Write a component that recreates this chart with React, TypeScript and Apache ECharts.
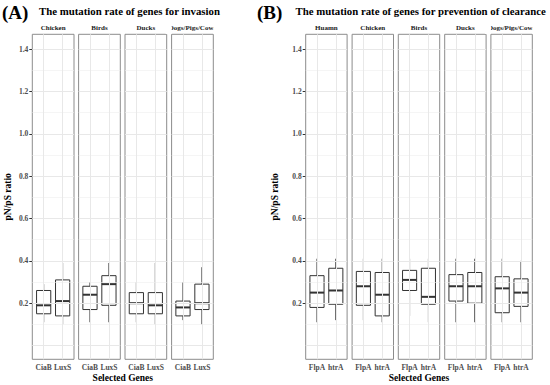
import { useEffect, useRef } from 'react';
import * as echarts from 'echarts';

// ---------- data ----------
const facetsA = ['Chicken', 'Birds', 'Ducks', 'Dogs/Pigs/Cows'];
const genesA = ['CiaB', 'LuxS'];
// [min, q1, median, q3, max] per facet
const ciaB = [
  [0.11, 0.15, 0.19, 0.26, 0.29],
  [0.11, 0.17, 0.24, 0.28, 0.30],
  [0.11, 0.15, 0.20, 0.25, 0.30],
  [0.12, 0.14, 0.18, 0.21, 0.30],
];
const luxS = [
  [0.10, 0.14, 0.21, 0.31, 0.39],
  [0.11, 0.19, 0.29, 0.33, 0.39],
  [0.10, 0.15, 0.19, 0.25, 0.39],
  [0.10, 0.17, 0.20, 0.29, 0.37],
];

const facetsB = ['Huamn', 'Chicken', 'Birds', 'Ducks', 'Dogs/Pigs/Cows'];
const genesB = ['FlpA', 'htrA'];
const flpA = [
  [0.11, 0.18, 0.25, 0.33, 0.41],
  [0.12, 0.19, 0.28, 0.35, 0.41],
  [0.14, 0.26, 0.31, 0.355, 0.41],
  [0.11, 0.21, 0.28, 0.335, 0.41],
  [0.11, 0.155, 0.27, 0.325, 0.41],
];
const htrA = [
  [0.12, 0.195, 0.26, 0.365, 0.41],
  [0.11, 0.14, 0.24, 0.345, 0.41],
  [0.11, 0.195, 0.23, 0.365, 0.41],
  [0.11, 0.20, 0.28, 0.345, 0.41],
  [0.11, 0.185, 0.25, 0.315, 0.40],
];

const yTickLabels = [0.2, 0.4, 0.6, 0.8, 1.0, 1.2, 1.4];
const yMajorGrid = [0.0, 0.2, 0.4, 0.6, 0.8, 1.0, 1.2, 1.4];
const yMinorGrid = [0.1, 0.3, 0.5, 0.7, 0.9, 1.1, 1.3];
const geneSlots = [1, 2];

// ---------- layout ----------
const FONT = '"Liberation Serif", "DejaVu Serif", serif';
const GRID_TOP = 34.3;
const GRID_H = 325;
const leftsA = [32.3, 78.6, 125, 171.6];
const widthA = 41.7;
const leftsB = [305.7, 352.1, 398.3, 444.7, 490.9];
const widthB = 41.4;
const Y_MIN = -0.065;
const Y_MAX = 1.47;

export default function App() {
  const ref = useRef<HTMLDivElement>(null);

  useEffect(() => {
    document.body.style.margin = '0';
    if (!ref.current) return;
    const chart = echarts.init(ref.current, null, { renderer: 'svg' });

    const grids: any[] = [];
    const xAxes: any[] = [];
    const yAxes: any[] = [];
    const series: any[] = [];
    const graphics: any[] = [];

    const renderBox = (_params: any, api: any) => {
      const x = api.value(0);
      const lo = api.coord([x, api.value(1)]);
      const q1 = api.coord([x, api.value(2)]);
      const md = api.coord([x, api.value(3)]);
      const q3 = api.coord([x, api.value(4)]);
      const hi = api.coord([x, api.value(5)]);
      const w = api.size([0.75, 0])[0];
      const cx = lo[0];
      const stroke = '#333333';
      return {
        type: 'group',
        children: [
          { type: 'line', shape: { x1: cx, y1: hi[1], x2: cx, y2: q3[1] }, style: { stroke, lineWidth: 1 } },
          { type: 'line', shape: { x1: cx, y1: q1[1], x2: cx, y2: lo[1] }, style: { stroke, lineWidth: 1 } },
          {
            type: 'rect',
            shape: { x: cx - w / 2, y: q3[1], width: w, height: q1[1] - q3[1] },
            style: { fill: '#ffffff', stroke, lineWidth: 1 },
          },
          { type: 'line', shape: { x1: cx - w / 2, y1: md[1], x2: cx + w / 2, y2: md[1] }, style: { stroke, lineWidth: 2 } },
        ],
      };
    };

    const addPanel = (
      facets: string[],
      genes: string[],
      g1: number[][],
      g2: number[][],
      lefts: number[],
      width: number,
      nameGap: number
    ) => {
      facets.forEach((facet, i) => {
        const idx = grids.length;
        grids.push({
          left: lefts[i],
          top: GRID_TOP,
          width,
          height: GRID_H,
          show: true,
          borderColor: '#8c8c8c',
          borderWidth: 1,
          backgroundColor: '#ffffff',
          containLabel: false,
        });
        xAxes.push({
          type: 'value',
          gridIndex: idx,
          min: 0.4,
          max: 2.6,
          axisLine: { show: false },
          splitLine: { show: false },
          axisTick: { show: true, length: 3, customValues: geneSlots, lineStyle: { color: '#333333' } },
          axisLabel: {
            show: true,
            customValues: geneSlots,
            margin: 4,
            fontFamily: FONT,
            fontWeight: 'bold',
            fontSize: 7.5,
            color: '#4d4d4d',
            formatter: (v: number) => genes[Math.round(v) - 1] ?? '',
          },
        });
        yAxes.push({
          type: 'value',
          gridIndex: idx,
          min: Y_MIN,
          max: Y_MAX,
          axisLine: { show: false },
          splitLine: { show: false },
          axisTick: {
            show: i === 0,
            length: 3,
            customValues: yTickLabels,
            lineStyle: { color: '#333333' },
          },
          axisLabel: {
            show: i === 0,
            customValues: yTickLabels,
            margin: 4,
            fontFamily: FONT,
            fontWeight: 'bold',
            fontSize: 7.5,
            color: '#4d4d4d',
            formatter: (v: number) => v.toFixed(1),
          },
          name: i === 0 ? 'pN/pS ratio' : '',
          nameLocation: 'middle',
          nameRotate: 90,
          nameGap,
          nameTextStyle: { fontFamily: FONT, fontWeight: 'bold', fontSize: 9.5, color: '#000000' },
        });
        // gridlines
        series.push({
          type: 'line',
          xAxisIndex: idx,
          yAxisIndex: idx,
          data: [],
          silent: true,
          z: 1,
          markLine: {
            silent: true,
            symbol: ['none', 'none'],
            label: { show: false },
            animation: false,
            data: [
              ...yMinorGrid.map((v) => ({ yAxis: v, lineStyle: { color: '#efefef', width: 0.6, type: 'solid' } })),
              ...yMajorGrid.map((v) => ({ yAxis: v, lineStyle: { color: '#e8e8e8', width: 1, type: 'solid' } })),
              ...geneSlots.map((v) => ({ xAxis: v, lineStyle: { color: '#e8e8e8', width: 1, type: 'solid' } })),
            ],
          },
        });
        series.push({
          type: 'custom',
          xAxisIndex: idx,
          yAxisIndex: idx,
          z: 3,
          renderItem: renderBox,
          encode: { x: 0, y: [1, 2, 3, 4, 5] },
          data: [
            [1, ...g1[i]],
            [2, ...g2[i]],
          ],
        });
        // strip label
        graphics.push({
          type: 'text',
          x: lefts[i] + width / 2,
          y: 28,
          z: 10,
          style: {
            text: facet,
            fontFamily: FONT,
            fontWeight: 'bold',
            fontSize: 7,
            fill: '#1a1a1a',
            align: 'center',
            verticalAlign: 'middle',
          },
        });
      });
      // mask strip text that overflows the last facet
      const last = lefts.length - 1;
      graphics.push({
        type: 'rect',
        z: 11,
        shape: { x: lefts[last] - 6, y: 21, width: 6, height: 13 },
        style: { fill: '#ffffff' },
      });
      graphics.push({
        type: 'rect',
        z: 11,
        shape: { x: lefts[last] + width, y: 21, width: 8, height: 13 },
        style: { fill: '#ffffff' },
      });
      // x axis title
      graphics.push({
        type: 'text',
        x: (lefts[0] + lefts[last] + width) / 2,
        y: 377.5,
        z: 10,
        style: {
          text: 'Selected Genes',
          fontFamily: FONT,
          fontWeight: 'bold',
          fontSize: 9.5,
          fill: '#000000',
          align: 'center',
          verticalAlign: 'middle',
        },
      });
    };

    addPanel(facetsA, genesA, ciaB, luxS, leftsA, widthA, 19);
    addPanel(facetsB, genesB, flpA, htrA, leftsB, widthB, 26);

    // panel tags and titles
    graphics.push(
      {
        type: 'text',
        x: 2,
        y: 12,
        style: { text: '(A)', fontFamily: FONT, fontWeight: 'bold', fontSize: 19, fill: '#000', verticalAlign: 'middle' },
      },
      {
        type: 'text',
        x: 39,
        y: 10.5,
        style: {
          text: 'The mutation rate of genes for invasion',
          fontFamily: FONT,
          fontWeight: 'bold',
          fontSize: 10.8,
          fill: '#000',
          verticalAlign: 'middle',
        },
      },
      {
        type: 'text',
        x: 257,
        y: 12,
        style: { text: '(B)', fontFamily: FONT, fontWeight: 'bold', fontSize: 19, fill: '#000', verticalAlign: 'middle' },
      },
      {
        type: 'text',
        x: 295.5,
        y: 10.5,
        style: {
          text: 'The mutation rate of genes for prevention of clearance',
          fontFamily: FONT,
          fontWeight: 'bold',
          fontSize: 10.8,
          fill: '#000',
          verticalAlign: 'middle',
        },
      }
    );

    chart.setOption({
      animation: false,
      backgroundColor: '#ffffff',
      grid: grids,
      xAxis: xAxes,
      yAxis: yAxes,
      series,
      graphic: graphics,
    });

    return () => chart.dispose();
  }, []);

  return <div ref={ref} style={{ width: 550, height: 385 }} />;
}
